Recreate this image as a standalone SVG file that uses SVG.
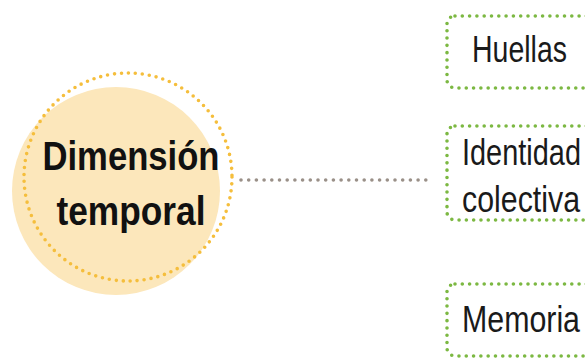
<svg xmlns="http://www.w3.org/2000/svg" width="585" height="358" viewBox="0 0 585 358">
<style>
.dot-green{fill:none;stroke:#7cb842;stroke-width:3.6;stroke-linecap:round;stroke-dasharray:0 7.3}
.lbl{font-family:"Liberation Sans",Arial,sans-serif;font-size:37px;fill:#1a1a1a}
.title{font-family:"Liberation Sans",Arial,sans-serif;font-size:41px;font-weight:bold;fill:#111;text-anchor:middle}
</style>
<rect width="585" height="358" fill="#ffffff"/>
<g id="connectors">
<line x1="241" y1="180" x2="427" y2="180" stroke="#9a9088" stroke-width="3.6" stroke-linecap="round" stroke-dasharray="0 7.7"/>
</g>
<g id="node-dimension">
<circle cx="116" cy="191" r="104" fill="#fce7bb"/>
<circle cx="128" cy="177" r="104" fill="none" stroke="#f5be3c" stroke-width="3.6" stroke-linecap="round" stroke-dasharray="0 7"/>
<text class="title" x="131" y="170" textLength="177" lengthAdjust="spacingAndGlyphs">Dimensión</text>
<text class="title" x="131" y="225" textLength="149" lengthAdjust="spacingAndGlyphs">temporal</text>
</g>
<g id="node-huellas">
<rect class="dot-green" x="447" y="16" width="160" height="72" rx="8"/>
<text class="lbl" x="472" y="62" textLength="95" lengthAdjust="spacingAndGlyphs">Huellas</text>
</g>
<g id="node-identidad">
<rect class="dot-green" x="447" y="126" width="160" height="94" rx="8"/>
<text class="lbl" x="462" y="165" textLength="119" lengthAdjust="spacingAndGlyphs">Identidad</text>
<text class="lbl" x="462" y="212" textLength="118" lengthAdjust="spacingAndGlyphs">colectiva</text>
</g>
<g id="node-memoria">
<rect class="dot-green" x="447" y="284" width="160" height="72" rx="8"/>
<text class="lbl" x="462" y="332" textLength="118" lengthAdjust="spacingAndGlyphs">Memoria</text>
</g>
</svg>
